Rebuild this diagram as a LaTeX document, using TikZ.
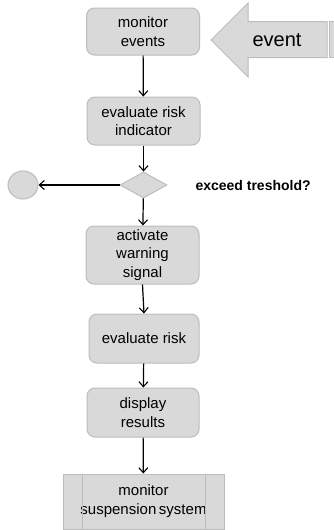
\documentclass[tikz,border=0pt]{standalone}
\usepackage{fontspec}
\setmainfont{Liberation Sans}
\usetikzlibrary{arrows.meta,shapes.geometric}
\definecolor{boxfill}{HTML}{D9D9D9}
\definecolor{boxline}{HTML}{BCBCBC}
\begin{document}
\begin{tikzpicture}[x=1pt,y=-1pt,
  action/.style={draw=boxline,fill=boxfill,line width=1pt,rounded corners=8pt,
    minimum width=#1,align=center,inner sep=0pt,
    font=\fontsize{15}{18.5}\selectfont},
  action/.default=113pt,
  flow/.style={line width=1.2pt,-{Straight Barb[length=5pt,width=9pt,line width=1.1pt]}},
  greyshape/.style={draw=boxline,fill=boxfill,line width=1pt}]
\useasboundingbox (0,0) rectangle (334,530);
\fill[white] (0,0) rectangle (334,530);

% incoming event block arrow
\begin{scope}
  \clip (0,0) rectangle (334,530);
  \draw[greyshape] (211,40) -- (248,3) -- (248,21.5) -- (327,21.5) -- (327,57.5)
    -- (248,57.5) -- (248,77) -- cycle;
  \draw[greyshape] (329,21.5) rectangle (345,57.5);
\end{scope}
\node[font=\fontsize{20}{24}\selectfont] (ev) at (277,40) {event};

% activity nodes
\node[action,minimum height=47pt] (n1) at (143,31.5) {monitor\\events};
\node[action,minimum height=48pt] (n2) at (143.5,121) {evaluate risk\\indicator};
\node[greyshape,diamond,minimum width=47pt,minimum height=26pt,inner sep=0pt,aspect=1.8] (dec) at (143.5,185) {};
\node[greyshape,ellipse,minimum width=30pt,minimum height=28pt,inner sep=0pt] (fin) at (23,185) {};
\node[font=\bfseries\fontsize{14}{17}\selectfont,anchor=west] (q) at (192,185) {exceed treshold?};
\node[action,minimum height=58pt] (n3) at (142.5,255) {activate\\warning\\signal};
\node[action=110pt,minimum height=49pt] (n4) at (144,338.5) {evaluate risk};
\node[action=112pt,minimum height=49pt] (n5) at (143,412.5) {display\\results};
\node[greyshape,minimum width=161pt,minimum height=55pt,inner sep=0pt,align=center,
  font=\fontsize{15}{19}\selectfont] (n6) at (143.5,501.5) {monitor\\suspension\hspace{-1.5pt} system};
\draw[boxline,line width=1pt] ([xshift=20pt]n6.north west) -- ([xshift=20pt]n6.south west);
\draw[boxline,line width=1pt] ([xshift=-19pt]n6.north east) -- ([xshift=-19pt]n6.south east);

% control flow
\draw[flow] (n1) -- (n2);
\draw[flow] (n2) -- (dec);
\draw[flow] (dec) -- (fin);
\draw[flow] (dec) -- (n3);
\draw[flow] (n3.south) -- (n4.north);
\draw[flow] (n4) -- (n5);
\draw[flow] (n5) -- (n6);
\end{tikzpicture}
\end{document}
